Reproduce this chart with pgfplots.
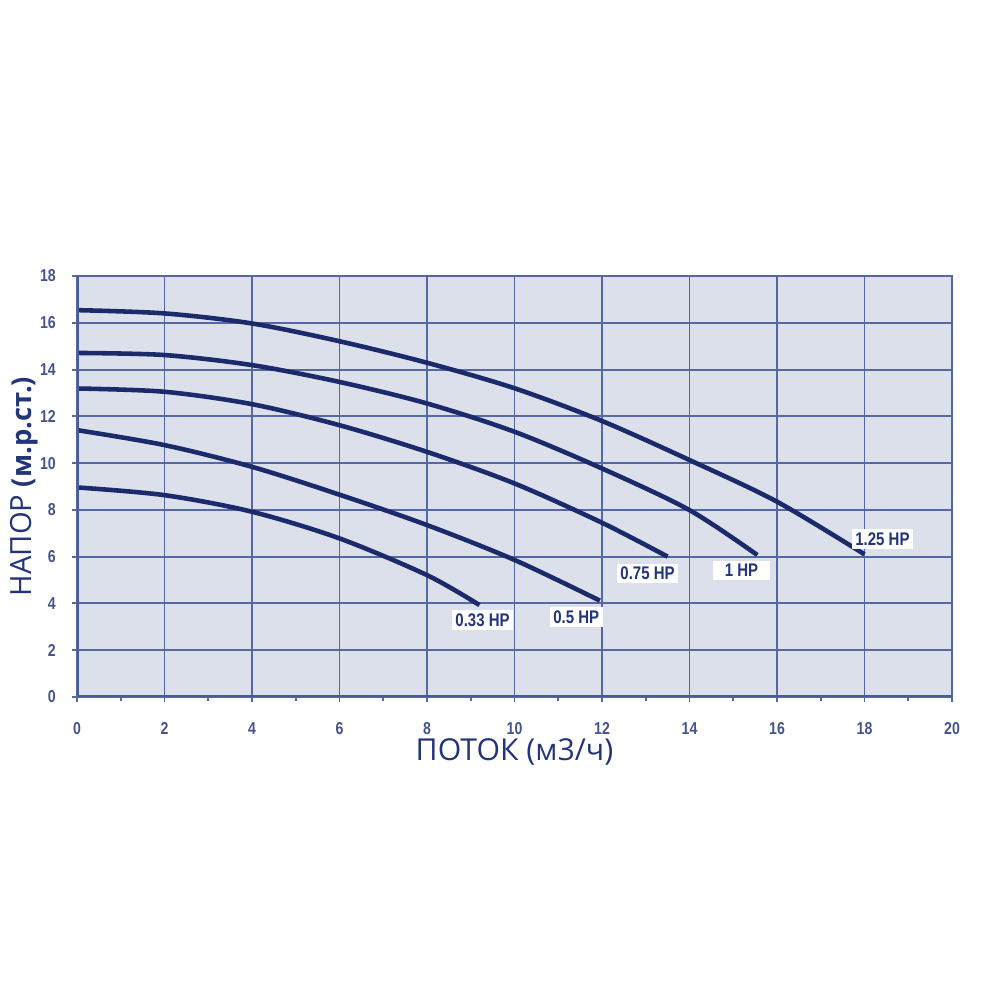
\documentclass[border=0pt]{standalone}
\usepackage{pgfplots}
\pgfplotsset{compat=1.18}
\usepackage{fontspec}
\setmainfont{Open Sans}
\newfontfamily\tickfont[FakeStretch=0.82]{Liberation Sans}

\definecolor{bgpanel}{HTML}{DCE0EA}
\definecolor{gridblue}{HTML}{5668A4}
\definecolor{curvenavy}{HTML}{1B2A6B}
\definecolor{textnavy}{HTML}{23357A}

\tikzset{hp/.style={fill=white, text=textnavy, font=\tickfont\bfseries\fontsize{5.2}{6}\selectfont, inner xsep=0.35mm, inner ysep=0.35mm}}

\begin{document}
\begin{tikzpicture}
% page = 100mm x 100mm (1000 px)
\path[use as bounding box] (-7.7mm,-30.3mm) rectangle (92.3mm,69.7mm);
\begin{axis}[
    at={(0,0)}, anchor=south west,
    scale only axis,
    width=87.5mm, height=42.1mm,
    xmin=0, xmax=20,
    ymin=0, ymax=18,
    xtick={0,2,...,20},
    ytick={0,2,...,18},
    minor xtick={1,3,...,19},
    tick pos=left,
    tick align=outside,
    major tick length=0.55mm,
    minor tick length=0.4mm,
    grid=major,
    grid style={gridblue, line width=0.55pt},
    axis background/.style={fill=bgpanel},
    axis line style={gridblue, line width=0.6pt},
    every tick/.style={gridblue, line width=0.55pt},
    /pgf/number format/assume math mode=true,
    ticklabel style={font=\tickfont\bfseries\fontsize{4.9}{5}\selectfont, text=textnavy!85, inner sep=0pt},
    xticklabel style={anchor=center, yshift=-2.6mm},
    yticklabel style={anchor=east, xshift=-1.5mm},
    xlabel={ПОТОК (м3/ч)},
    ylabel={НАПОР {\bfseries\fontsize{7.8}{9}\selectfont(м.р.ст.)}},
    xlabel style={font=\fontsize{8.6}{10}\selectfont, text=textnavy, at={(axis description cs:0.5,-0.13)}, anchor=center},
    ylabel style={font=\fontsize{8.3}{10}\selectfont, text=textnavy, at={(axis description cs:-0.06,0.5)}, anchor=center},
]

% 1.25 HP
\addplot[curvenavy, line width=1.3pt, smooth] coordinates {
  (0,16.54) (2,16.40) (4,15.97) (6,15.21) (8,14.29) (10,13.20) (12,11.80) (14,10.13) (16,8.35) (18,6.10)};
% 1 HP
\addplot[curvenavy, line width=1.3pt, smooth] coordinates {
  (0,14.71) (2,14.62) (4,14.19) (6,13.47) (8,12.55) (10,11.34) (12,9.77) (14,7.99) (15.55,6.07)};
% 0.75 HP
\addplot[curvenavy, line width=1.3pt, smooth] coordinates {
  (0,13.19) (2,13.05) (4,12.52) (6,11.62) (8,10.48) (10,9.13) (12,7.45) (13.5,6.00)};
% 0.5 HP
\addplot[curvenavy, line width=1.3pt, smooth] coordinates {
  (0,11.41) (2,10.77) (4,9.84) (6,8.65) (8,7.35) (10,5.86) (11.95,4.12)};
% 0.33 HP
\addplot[curvenavy, line width=1.3pt, smooth] coordinates {
  (0,8.96) (2,8.63) (4,7.92) (6,6.78) (8,5.21) (9.2,3.93)};

% thicker left and bottom frame
\draw[gridblue!80!curvenavy, line width=0.9pt] (rel axis cs:0,1) -- (rel axis cs:0,0) -- (rel axis cs:1,0);

\node[hp] at (axis cs:9.27,3.29) {0.33 HP};
\node[hp] at (axis cs:11.41,3.43) {0.5 HP};
\node[hp] at (axis cs:13.04,5.28) {0.75 HP};
\node[hp, minimum width=5.7mm] at (axis cs:15.19,5.40) {1 HP};
\node[hp] at (axis cs:18.41,6.74) {1.25 HP};
\end{axis}
\end{tikzpicture}
\end{document}
